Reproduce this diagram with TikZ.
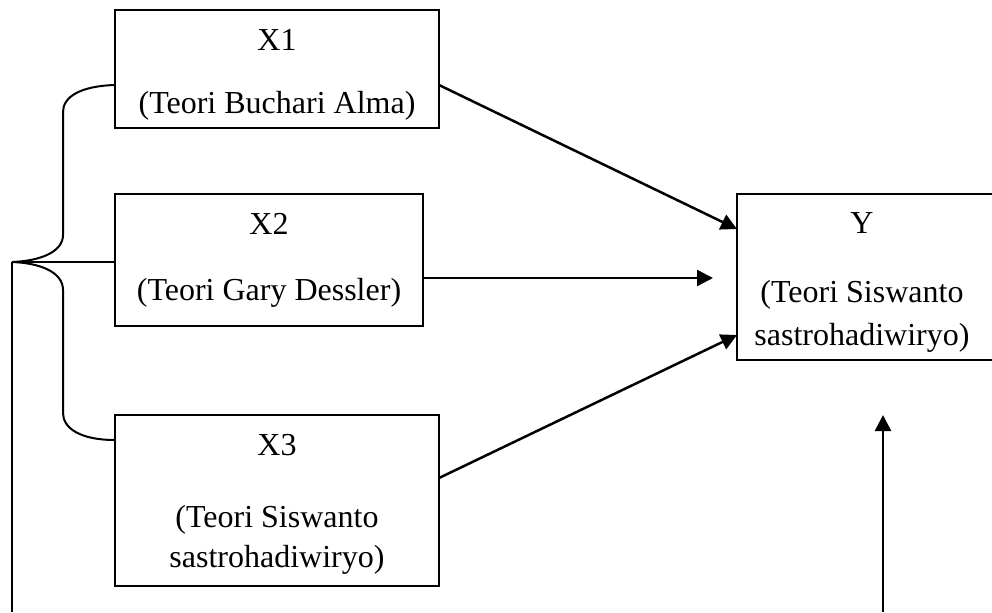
\documentclass[tikz,border=0pt]{standalone}
\usepackage{fontspec}
\setmainfont{Liberation Serif}
\usetikzlibrary{arrows.meta}

\tikzset{
	kotak/.style={draw, line width=1pt, inner sep=0pt},
	teks/.style={anchor=base, font=\fontsize{16}{20}\selectfont},
	garis/.style={line width=1pt},
	panah/.style={line width=1.25pt, -{Triangle[length=8pt,width=8pt]}}
}

\begin{document}
\begin{tikzpicture}[x=0.5pt, y=-0.5pt]
		\useasboundingbox (0,0) rectangle (992,612);
		\node[kotak, minimum width=162pt, minimum height=59pt] (x1) at (277,69) {};
		\node[teks] (x1a) at (277,50) {X1};
		\node[teks] (x1b) at (277,113) {(Teori Buchari Alma)};
		\node[kotak, minimum width=154pt, minimum height=66pt] (x2) at (269,260) {};
		\node[teks] (x2a) at (269,234) {X2};
		\node[teks] (x2b) at (269,300) {(Teori Gary Dessler)};
		\node[kotak, minimum width=162pt, minimum height=85.5pt] (x3) at (277,500.5) {};
		\node[teks] (x3a) at (277,455) {X3};
		\node[teks] (x3b) at (277,527) {(Teori Siswanto};
		\node[teks] (x3c) at (277,567) {sastrohadiwiryo)};
		\node[kotak, minimum width=129pt, minimum height=83pt] (y) at (866,277) {};
		\node[teks] (ya) at (862,233) {Y};
		\node[teks] (yb) at (862,302) {(Teori Siswanto};
		\node[teks] (yc) at (862,345) {sastrohadiwiryo)};
		\coordinate (ujung) at (12,262);
		\coordinate (kiri) at (12,612);
		\coordinate (bawah) at (883,612);
		\coordinate (x2ke) at (713,278);
		\draw[panah] (439,85) -- (737,229);
		\draw[panah] (x2.east |- x2ke) -- (x2ke);
		\draw[panah] (439,478) -- (737,335);
		\draw[garis] (115,85) .. controls (80,86) and (63,97) .. (63,112) -- (63,235)
			.. controls (63,252) and (40,261) .. (ujung)
			.. controls (40,263) and (63,272) .. (63,290) -- (63,413)
			.. controls (63,428) and (80,440) .. (115,440);
		\draw[garis] (ujung) -- (ujung -| x2.west);
		\draw[garis] (ujung) -- (kiri);
		\draw[panah] (bawah) -- (883,415);
	\end{tikzpicture}
\end{document}
